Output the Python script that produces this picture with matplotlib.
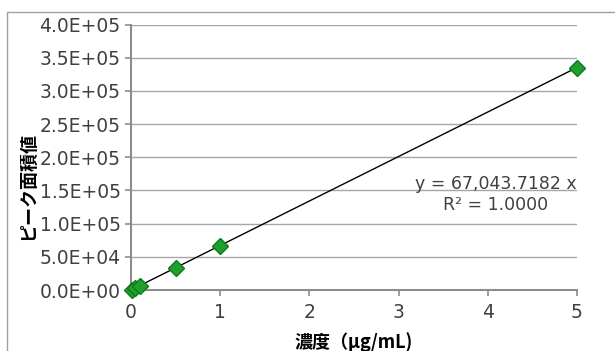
''' calibration curve: peak area vs concentration'''

import matplotlib
matplotlib.use('Agg')
import matplotlib.pyplot as plt
from matplotlib.patches import Rectangle

#%% data

conc = [0.01, 0.05, 0.1, 0.5, 1.0, 5.0]          # ug/mL
area = [670, 3350, 6700, 33500, 67000, 335000]   # peak area
slope = 67043.7182
r2 = 1.0000

yticks = [i * 5e4 for i in range(9)]
xticks = [0, 1, 2, 3, 4, 5]

#%% figure

plt.rcParams['font.family'] = ['DejaVu Sans', 'Noto Sans CJK JP']
jp = ['Noto Sans CJK JP', 'DejaVu Sans']
grey = '#8c8c8c'
txt = '#404040'

fig = plt.figure(figsize=(6.15, 3.51), dpi=100)
ax = fig.add_axes([131/615, 1 - 290/351, 446/615, 265.5/351])

# outer chart frame (cut off at right and bottom)
fig.patches.append(Rectangle((7/615, -0.2), 1.2, 1.2 - 12/351,
                             transform=fig.transFigure, fill=False,
                             edgecolor='#a0a0a0', lw=1.0))

ax.set_xlim(0, 5)
ax.set_ylim(0, 4e5)
ax.set_xticks(xticks)
ax.set_yticks(yticks)
ax.set_yticklabels([f'{v:.1E}' for v in yticks])

ax.yaxis.grid(True, color='#a6a6a6', lw=1.0)
ax.set_axisbelow(True)
for s in ['top', 'right']:
    ax.spines[s].set_visible(False)
for s in ['left', 'bottom']:
    ax.spines[s].set_color(grey)
    ax.spines[s].set_linewidth(1.5)
ax.tick_params(colors=grey, labelcolor=txt, labelsize=13.5, length=4,
               width=1.2, direction='out')
ax.tick_params(axis='x', pad=5)

# trendline
xs = [0, max(conc)]
ax.plot(xs, [slope * v for v in xs], color='black', lw=1.0, zorder=3)

ax.plot(conc, area, ls='none', marker='D', markersize=8.5,
        markerfacecolor='#1fa02e', markeredgecolor='#0c7a18',
        markeredgewidth=1.0, zorder=4, clip_on=False)

ax.text(4.09, 1.525e5, f'y = {slope:,.4f} x', ha='center', va='baseline',
        fontsize=12.5, color=txt)
ax.text(4.09, 1.2e5, f'R² = {r2:.4f}', ha='center', va='baseline',
        fontsize=12.5, color=txt)

fig.text(28/615, 1 - 186/351, 'ピーク面積値', rotation=90, ha='center',
         va='center', fontsize=13, fontweight='bold', family=jp)
fig.text(354/615, 1 - 342/351, '濃度（μg/mL)', ha='center', va='center',
         fontsize=13, fontweight='bold', family=jp)

fig.savefig('out.png', dpi=100)
